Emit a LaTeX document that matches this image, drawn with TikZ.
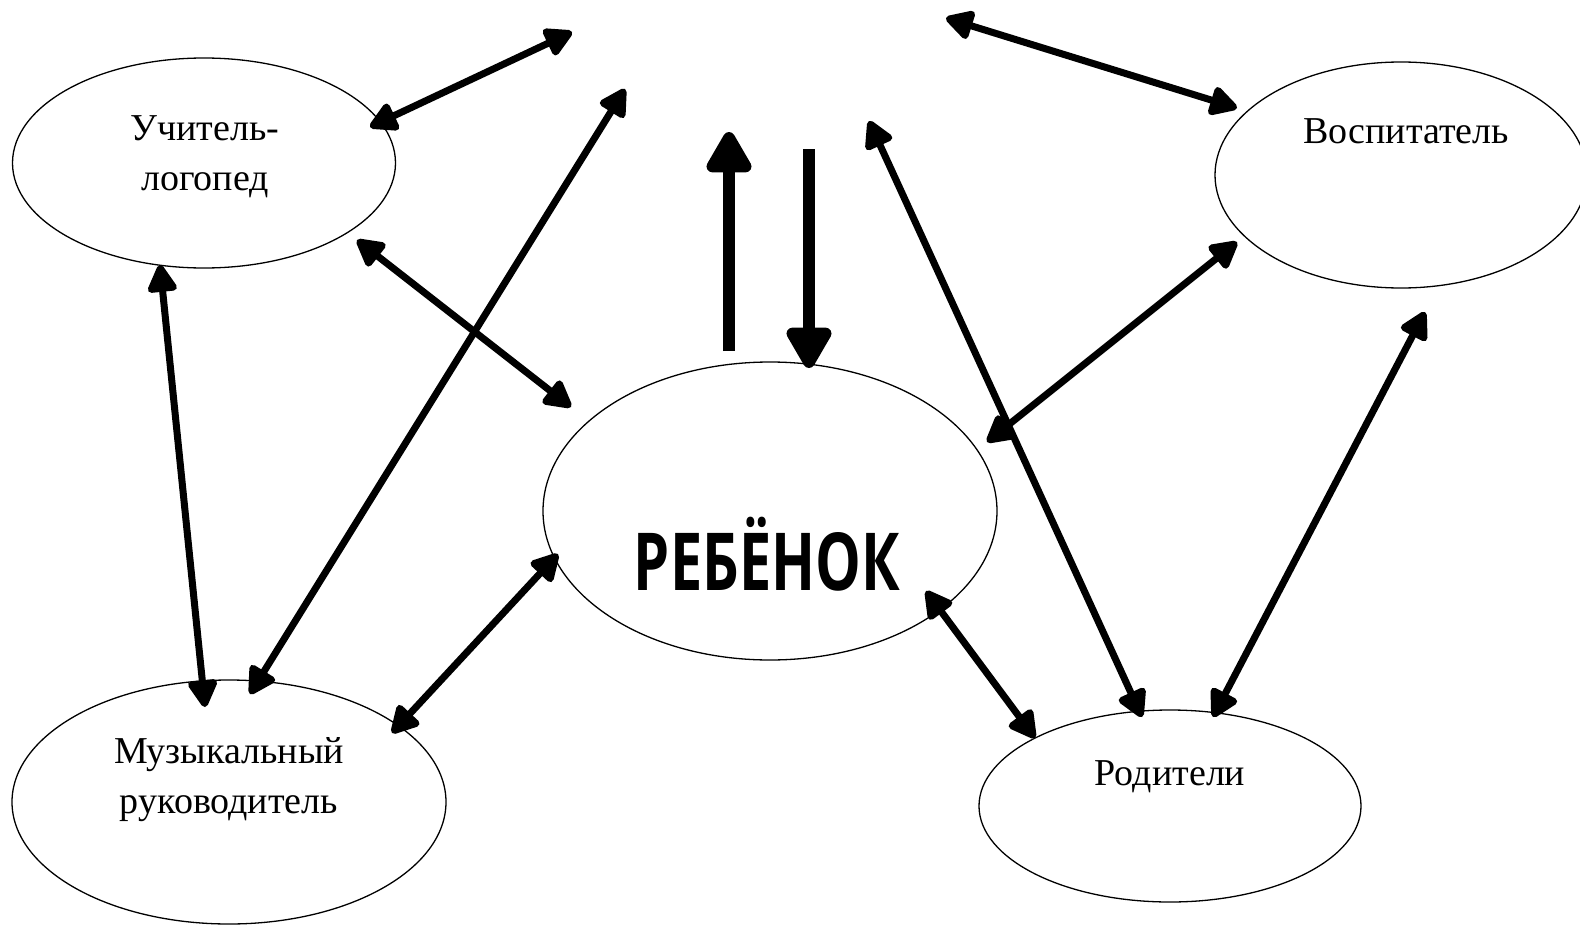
\documentclass[tikz,border=0pt]{standalone}
\usepackage{fontspec}
\setmainfont{Liberation Serif}
\newfontfamily\childfont{Open Sans}[FakeStretch=0.72]
\usetikzlibrary{shapes.geometric,arrows.meta}
\begin{document}
\begin{tikzpicture}[x=1pt,y=-1pt,
  oval/.style={draw, ellipse, line width=1.3pt, inner sep=0pt},
  lbl/.style={font=\fontsize{38}{50}\selectfont, align=center, anchor=base, inner sep=0pt},
  dbl/.style={line width=7pt, {Triangle[length=31pt,width=32pt,round]}-{Triangle[length=31pt,width=32pt,round]}},
  big/.style={line width=12pt, -{Triangle[length=47pt,width=50pt,round]}}]
\useasboundingbox (0,0) rectangle (1580,926);
% ellipses
\node[oval, minimum width=383pt, minimum height=210pt] (T) at (204,163) {};
\node[oval, minimum width=372pt, minimum height=226pt] (V) at (1401,175) {};
\node[oval, minimum width=454pt, minimum height=298pt] (C) at (770,511) {};
\node[oval, minimum width=434pt, minimum height=244pt] (M) at (229,802) {};
\node[oval, minimum width=382pt, minimum height=192pt] (P) at (1170,806) {};
% labels
\node[lbl] (Tt) at (205,190) {Учитель-\\логопед};
\node[lbl] (Vt) at (1406,143) {Воспитатель};
\node[lbl] (Mt) at (229,813) {Музыкальный\\руководитель};
\node[lbl] (Pt) at (1170,785) {Родители};
\node[font=\childfont\bfseries\fontsize{80}{90}\selectfont, anchor=base, inner sep=0pt] (Ct) at (767,590) {РЕБЁНОК};
% free ends at the top
\coordinate (top1) at (572,32);
\coordinate (top2) at (625,89);
\coordinate (top3) at (729,132);
\coordinate (top4) at (809,149);
\coordinate (top5) at (869,121);
\coordinate (top6) at (946,18);
% ends near the ellipses
\coordinate (T1) at (370,127);
\coordinate (T2) at (357,240);
\coordinate (T3) at (160,265);
\coordinate (M1) at (250,694);
\coordinate (M2) at (205,707);
\coordinate (M3) at (392,733);
\coordinate (C1) at (571,407);
\coordinate (C2) at (558,554);
\coordinate (C3) at (987,442);
\coordinate (C4) at (926,591);
\coordinate (C5) at (729,351);
\coordinate (C6) at (809,368);
\coordinate (V1) at (1237,108);
\coordinate (V2) at (1237,242);
\coordinate (V3) at (1425,312);
\coordinate (P1) at (1142,717);
\coordinate (P2) at (1035,738);
\coordinate (P3) at (1213,717);
% connectors
\draw[dbl] (T1) -- (top1);
\draw[dbl] (M1) -- (top2);
\draw[big] (C5) -- (top3);
\draw[big] (top4) -- (C6);
\draw[dbl] (top5) -- (P1);
\draw[dbl] (top6) -- (V1);
\draw[dbl] (T2) -- (C1);
\draw[dbl] (T3) -- (M2);
\draw[dbl] (C2) -- (M3);
\draw[dbl] (C3) -- (V2);
\draw[dbl] (C4) -- (P2);
\draw[dbl] (V3) -- (P3);
\end{tikzpicture}
\end{document}
